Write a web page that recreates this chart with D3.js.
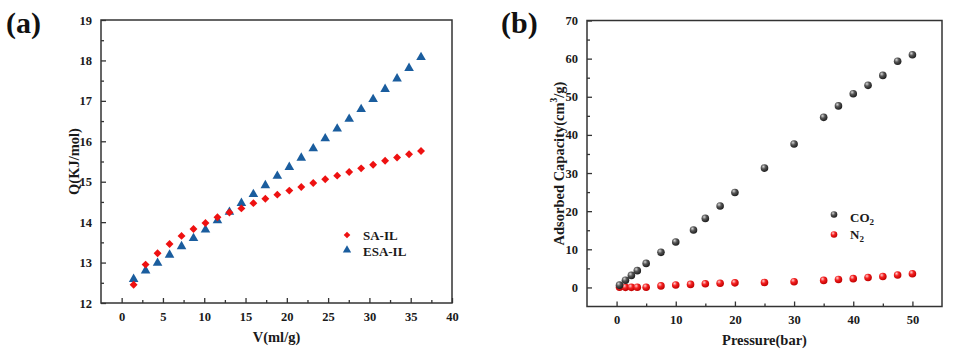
<!DOCTYPE html>
<html><head><meta charset="utf-8">
<script src="https://cdn.jsdelivr.net/npm/d3@7"></script>
<style>
html,body{margin:0;padding:0;background:#fff;}
svg{display:block;font-family:"Liberation Serif","Times New Roman",serif;font-weight:bold;}
</style></head>
<body>
<svg id="c" width="955" height="354"></svg>
<script>
// ---- Panel (a) data ----
const volA = [1.45,2.9,4.35,5.8,7.25,8.7,10.15,11.6,13.05,14.5,15.95,17.4,18.85,20.3,21.75,23.2,24.65,26.1,27.55,29,30.45,31.9,33.35,34.8,36.25];
const qSA  = [12.45,12.95,13.23,13.46,13.66,13.83,13.98,14.12,14.24,14.34,14.47,14.58,14.68,14.78,14.87,14.97,15.06,15.15,15.24,15.33,15.42,15.52,15.60,15.68,15.76];
const qESA = [12.59,12.80,12.99,13.19,13.40,13.60,13.81,14.04,14.25,14.47,14.69,14.91,15.14,15.36,15.59,15.82,16.07,16.31,16.55,16.79,17.04,17.29,17.55,17.81,18.08];
const xTicksA = [0,5,10,15,20,25,30,35,40];
const yTicksA = [12,13,14,15,16,17,18,19];
// ---- Panel (b) data ----
const presCO2 = [0.5,1.5,2.5,3.5,5,7.5,10,13,15,17.5,20,25,30,35,37.5,40,42.5,45,47.5,50];
const capCO2  = [0.6,1.9,3.15,4.4,6.3,9.2,11.9,15.05,18.1,21.35,24.9,31.3,37.6,44.6,47.6,50.8,53.0,55.6,59.3,61.0];
const presN2  = [0.5,1.5,2.5,3.5,5,7.5,10,12.5,15,17.5,20,25,30,35,37.5,40,42.5,45,47.5,50];
const capN2   = [0.05,0.02,0.02,0.03,0.05,0.4,0.65,0.8,0.95,1.1,1.2,1.3,1.5,1.85,2.1,2.3,2.6,2.85,3.25,3.6];
const xTicksB = [0,10,20,30,40,50];
const yTicksB = [0,10,20,30,40,50,60,70];

const svg = d3.select("#c");
const defs = svg.append("defs");
function sphereGrad(id, c0, c1, c2){
  const g = defs.append("radialGradient").attr("id", id).attr("cx","38%").attr("cy","35%").attr("r","65%").attr("fx","35%").attr("fy","30%");
  g.append("stop").attr("offset","0%").attr("stop-color",c0);
  g.append("stop").attr("offset","45%").attr("stop-color",c1);
  g.append("stop").attr("offset","100%").attr("stop-color",c2);
}
sphereGrad("gGray", "#d8d8d8", "#555", "#1e1e1e");
sphereGrad("gRed", "#ffd0d0", "#f42020", "#c00000");

const frameColor = "#333";

function panel(o){
  const g = svg.append("g");
  const x = d3.scaleLinear().domain(o.xDom).range([o.L, o.R]);
  const y = d3.scaleLinear().domain(o.yDom).range([o.B, o.T]);
  const xMinor = d3.range(o.xDom[0], o.xDom[1] + 1e-9, o.xMinor).filter(v => v > o.xDom[0]+1e-9 && v < o.xDom[1]-1e-9);
  const yMinor = d3.range(o.yDom[0], o.yDom[1] + 1e-9, o.yMinor).filter(v => v > o.yDom[0]+1e-9 && v < o.yDom[1]-1e-9);
  const xAx = d3.axisBottom(x).tickValues(o.xTicks).tickSizeInner(-5).tickSizeOuter(0).tickPadding(9).tickFormat(d3.format("d"));
  const xAxMinor = d3.axisBottom(x).tickValues(xMinor.filter(v => !o.xTicks.includes(v))).tickSizeInner(-3).tickSizeOuter(0).tickFormat("");
  const yAx = d3.axisLeft(y).tickValues(o.yTicks).tickSizeInner(-5).tickSizeOuter(0).tickPadding(9).tickFormat(d3.format("d"));
  const yAxMinor = d3.axisLeft(y).tickValues(yMinor.filter(v => !o.yTicks.includes(v))).tickSizeInner(-3).tickSizeOuter(0).tickFormat("");
  [ [xAx,"x"],[xAxMinor,"x"],[yAx,"y"],[yAxMinor,"y"] ].forEach(([ax,t])=>{
    const a = g.append("g").attr("transform", t==="x" ? `translate(0,${o.B})` : `translate(${o.L},0)`).call(ax);
    a.select(".domain").remove();
    a.selectAll("line").attr("stroke", frameColor).attr("stroke-width",1.3);
    a.selectAll("text").attr("font-family",'"Liberation Serif",serif').attr("font-weight","bold").attr("font-size",12.5).attr("fill","#1a1a1a");
  });
  g.append("rect").attr("x",o.L).attr("y",o.T).attr("width",o.R-o.L).attr("height",o.B-o.T)
    .attr("fill","none").attr("stroke",frameColor).attr("stroke-width",1.5);
  g.append("text").attr("x",o.letterX).attr("y",o.letterY).attr("font-size",30).attr("fill","#111").text(o.letter);
  g.append("text").attr("x",(o.L+o.R)/2).attr("y",o.xTitleY).attr("text-anchor","middle").attr("font-size",14.5).attr("fill","#1a1a1a").text(o.xTitle);
  const yt = g.append("text").attr("transform",`translate(${o.yTitleX},${(o.T+o.B)/2}) rotate(-90)`).attr("text-anchor","middle").attr("dominant-baseline","central").attr("font-size",14.5).attr("fill","#1a1a1a");
  o.yTitleFn(yt);
  return {g,x,y};
}

// ---- Panel (a) ----
const A = panel({L:101,R:452,T:20,B:303,xDom:[-2.5,40],yDom:[12,19],xTicks:xTicksA,yTicks:yTicksA,xMinor:2.5,yMinor:0.5,
  letter:"(a)",letterX:6,letterY:33,xTitle:"V(ml/g)",xTitleY:342,yTitleX:74,
  yTitleFn:t=>t.text("Q(KJ/mol)")});
const redC = "#ee1111", blueC = "#1a5d9e";
const diamond = d3.symbol().type(d3.symbolDiamond2).size(40);
const tri = d3.symbol().type(d3.symbolTriangle).size(40);
A.g.append("g").selectAll("path").data(volA.map((v,i)=>[v,qESA[i]])).join("path")
  .attr("d",tri).attr("transform",d=>`translate(${A.x(d[0])},${A.y(d[1])})`).attr("fill",blueC);
A.g.append("g").selectAll("path").data(volA.map((v,i)=>[v,qSA[i]])).join("path")
  .attr("d",diamond).attr("transform",d=>`translate(${A.x(d[0])},${A.y(d[1])})`).attr("fill",redC);
A.g.append("path").attr("d",d3.symbol().type(d3.symbolDiamond2).size(28)).attr("transform","translate(347,235)").attr("fill",redC);
A.g.append("path").attr("d",d3.symbol().type(d3.symbolTriangle).size(30)).attr("transform","translate(347,250)").attr("fill",blueC);
A.g.append("text").attr("x",363).attr("y",240).attr("font-size",13).attr("fill","#1a1a1a").text("SA-IL");
A.g.append("text").attr("x",363).attr("y",255.5).attr("font-size",13).attr("fill","#1a1a1a").text("ESA-IL");

// ---- Panel (b) ----
const B = panel({L:587,R:942,T:20.5,B:306.5,xDom:[-5,55],yDom:[-5,70],xTicks:xTicksB,yTicks:yTicksB,xMinor:5,yMinor:5,
  letter:"(b)",letterX:501,letterY:33,xTitle:"Pressure(bar)",xTitleY:345,yTitleX:559,
  yTitleFn:t=>{t.append("tspan").text("Adsorbed Capacity(cm");
    t.append("tspan").attr("font-size",9.5).attr("dy",-5).text("3");
    t.append("tspan").attr("dy",5).text("/g)");}});
B.g.append("g").selectAll("circle").data(presN2.map((v,i)=>[v,capN2[i]])).join("circle")
  .attr("cx",d=>B.x(d[0])).attr("cy",d=>B.y(d[1])).attr("r",3.8).attr("fill","url(#gRed)");
B.g.append("g").selectAll("circle").data(presCO2.map((v,i)=>[v,capCO2[i]])).join("circle")
  .attr("cx",d=>B.x(d[0])).attr("cy",d=>B.y(d[1])).attr("r",3.8).attr("fill","url(#gGray)");
B.g.append("circle").attr("cx",834).attr("cy",214.5).attr("r",3.3).attr("fill","url(#gGray)");
B.g.append("circle").attr("cx",834).attr("cy",234.5).attr("r",3.3).attr("fill","url(#gRed)");
const l1 = B.g.append("text").attr("x",850).attr("y",221.5).attr("font-size",13).attr("fill","#1a1a1a");
l1.append("tspan").text("CO"); l1.append("tspan").attr("font-size",9).attr("dy",3).text("2");
const l2 = B.g.append("text").attr("x",850).attr("y",238.5).attr("font-size",13).attr("fill","#1a1a1a");
l2.append("tspan").text("N"); l2.append("tspan").attr("font-size",9).attr("dy",3).text("2");
</script>
</body></html>
